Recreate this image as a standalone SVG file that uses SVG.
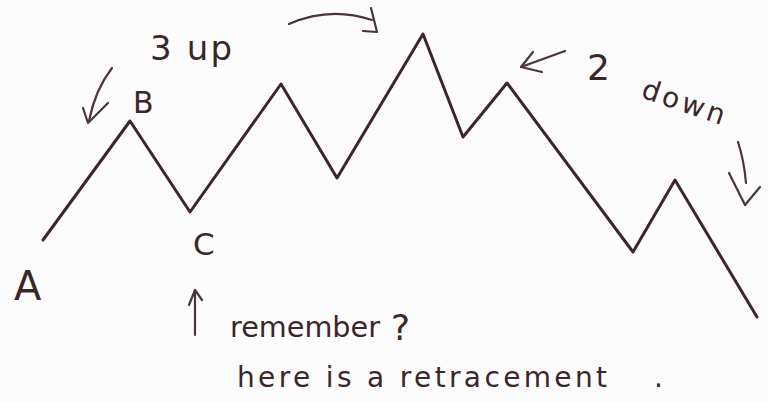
<svg xmlns="http://www.w3.org/2000/svg" width="768" height="402" viewBox="0 0 768 402">
<style>
.ink{fill:none;stroke:#3b2629;stroke-width:3;stroke-linecap:round;stroke-linejoin:round}
.thin{fill:none;stroke:#4a3538;stroke-width:2.2;stroke-linecap:round;stroke-linejoin:round}
.t{font-family:"DejaVu Sans","Liberation Sans",sans-serif;fill:#3b2629}
</style>
<rect width="768" height="402" fill="#fcfcfc"/>
<g id="zigzag">
<polyline class="ink" points="43,240 130,121 190,212 281,84 337,178 423,34 463,137 507,83 633,252 675,180 757,317"/>
</g>
<g id="label-A"><text class="t" x="14" y="300" font-size="40">A</text></g>
<g id="label-B"><text class="t" x="133" y="113" font-size="30">B</text></g>
<g id="label-C"><text class="t" x="193" y="255" font-size="31">C</text></g>
<g id="label-3up"><text class="t" x="150" y="60" font-size="34" textLength="82" lengthAdjust="spacing">3 up</text></g>
<g id="label-2down">
<text class="t" x="587" y="80" font-size="36">2</text>
<text class="t" x="640" y="97" font-size="28" textLength="86" lengthAdjust="spacing" transform="rotate(19 640 97)">down</text>
</g>
<g id="note">
<text class="t" x="230" y="337" font-size="28" textLength="150" lengthAdjust="spacingAndGlyphs">remember</text>
<text class="t" x="391" y="340" font-size="36">?</text>
<text class="t" x="237" y="387" font-size="28" textLength="370" lengthAdjust="spacing">here is a retracement</text>
<text class="t" x="654" y="387" font-size="28">.</text>
</g>
<g id="connectors">
<path class="thin" d="M289,24 Q330,6 372,20"/>
<path class="thin" d="M371,8 L377,32 L363,31"/>
<path class="thin" d="M112,68 Q95,90 89,121"/>
<path class="thin" d="M83,108 L88,123 L108,103"/>
<path class="thin" d="M565,51 L521,67"/>
<path class="thin" d="M533,52 L521,67 L542,72"/>
<path class="thin" d="M738,142 Q744,160 746,183"/>
<path class="thin" d="M729,173 L745,205 L760,187"/>
<path class="thin" d="M195,290 L195,335"/>
<path class="thin" d="M189,305 L195,290 L202,300"/>
</g>
</svg>
